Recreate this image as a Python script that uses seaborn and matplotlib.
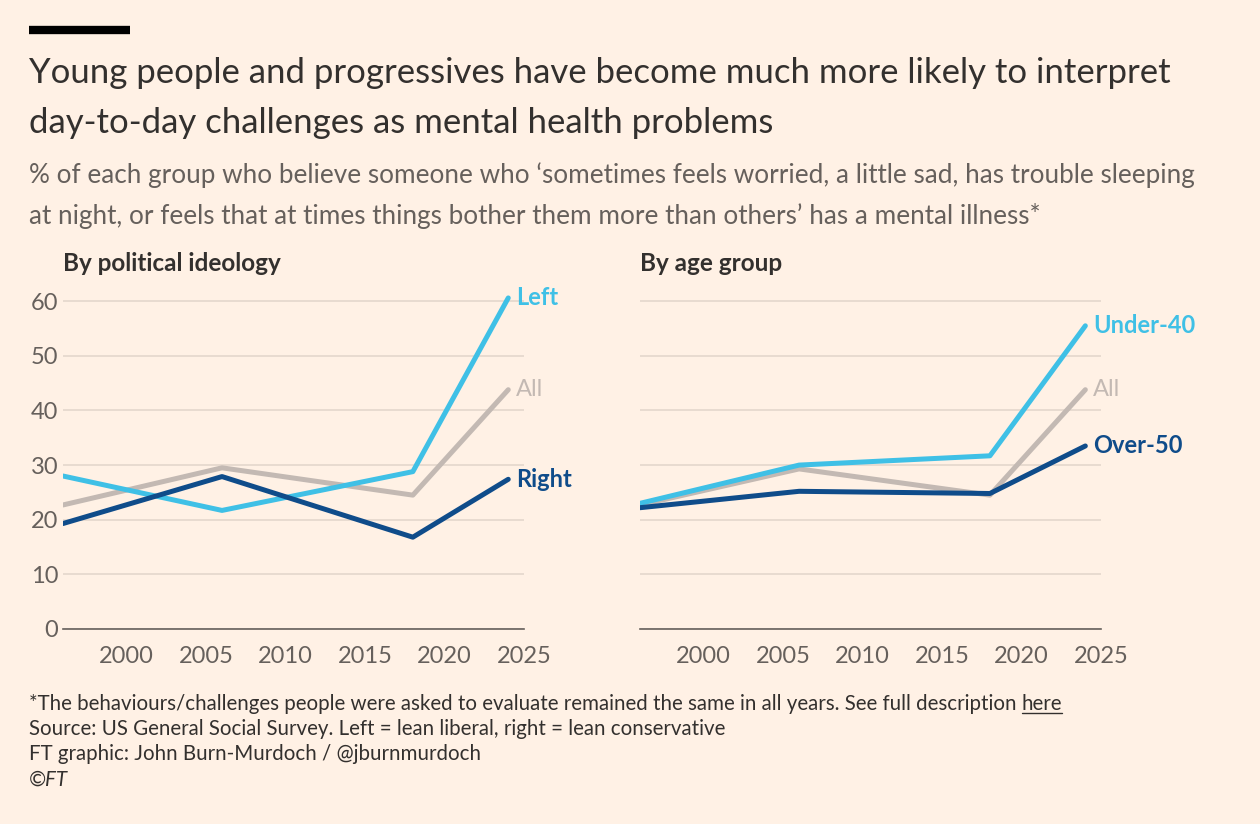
import matplotlib
matplotlib.use("Agg")
import matplotlib.pyplot as plt
import seaborn as sns
import pandas as pd

years = [1996, 2006, 2018, 2024]
pol_left = [28.0, 21.7, 28.8, 60.6]
pol_all = [22.7, 29.5, 24.5, 43.8]
pol_right = [19.3, 27.9, 16.8, 27.4]
age_under40 = [23.0, 30.0, 31.7, 55.5]
age_all = [22.7, 29.3, 24.5, 43.8]
age_over50 = [22.2, 25.2, 24.8, 33.5]

BG = "#FFF1E5"
LIGHT = "#3FC0E6"
GREY = "#C3B9B3"
DARK = "#0F4C8A"
TXT = "#33302E"
MUTE = "#66605C"

sns.set_theme(style="white")
plt.rcParams['font.family'] = ['Lato', 'DejaVu Sans']

fig = plt.figure(figsize=(12.6, 8.24), dpi=100, facecolor=BG)
ax1 = fig.add_axes([0.05, 0.2367, 0.366, 0.411], facecolor=BG)
ax2 = fig.add_axes([0.508, 0.2367, 0.366, 0.411], facecolor=BG)

panels = [
    (ax1, "By political ideology", [("Left", pol_left, LIGHT), ("All", pol_all, GREY), ("Right", pol_right, DARK)]),
    (ax2, "By age group", [("Under-40", age_under40, LIGHT), ("All", age_all, GREY), ("Over-50", age_over50, DARK)]),
]
for i, (ax, title, series) in enumerate(panels):
    rows = []
    for name, vals, c in series:
        for y, v in zip(years, vals):
            rows.append({"year": y, "value": v, "series": name})
    df = pd.DataFrame(rows)
    pal = {n: c for n, _, c in series}
    sns.lineplot(data=df, x="year", y="value", hue="series", palette=pal,
                 hue_order=[s[0] for s in series], linewidth=3.6,
                 legend=False, ax=ax)
    for line in ax.lines:
        if matplotlib.colors.to_hex(line.get_color()).upper() == GREY.upper():
            line.set_zorder(2)
        else:
            line.set_zorder(3)
    for name, vals, c in series:
        ax.text(years[-1] + 0.5, vals[-1], name, color=c, fontsize=17, va="center",
                fontweight="bold" if c != GREY else "normal")
    ax.set_xlim(1996, 2025)
    ax.set_ylim(0, 62)
    ax.set_yticks(range(0, 61, 10))
    ax.set_xticks([2000, 2005, 2010, 2015, 2020, 2025])
    ax.tick_params(axis="x", length=8, width=1.2, color=MUTE, labelsize=17, labelcolor=MUTE, pad=4)
    ax.tick_params(axis="y", length=0, labelsize=17, labelcolor=MUTE)
    if i == 1:
        ax.set_yticklabels([])
    ax.grid(axis="y", color="#E6D9CE", linewidth=1.3)
    ax.set_axisbelow(True)
    for s in ["top", "right", "left"]:
        ax.spines[s].set_visible(False)
    ax.spines["bottom"].set_color(MUTE)
    ax.spines["bottom"].set_linewidth(1.2)
    ax.set_xlabel("")
    ax.set_ylabel("")
    ax.text(0.0, 1.045, title, transform=ax.transAxes, fontsize=17.5, color=TXT, fontweight="bold",
            ha="left", va="bottom")

fig.add_artist(plt.Line2D([0.023, 0.103], [0.963, 0.963], color="black", linewidth=6,
                          solid_capstyle="butt"))
fig.text(0.023, 0.911, "Young people and progressives have become much more likely to interpret",
         fontsize=25, color=TXT, va="center")
fig.text(0.023, 0.851, "day-to-day challenges as mental health problems", fontsize=25, color=TXT, va="center")
fig.text(0.023, 0.787, "% of each group who believe someone who ‘sometimes feels worried, a little sad, has trouble sleeping",
         fontsize=18.8, color=MUTE, va="center")
fig.text(0.023, 0.738, "at night, or feels that at times things bother them more than others’ has a mental illness*",
         fontsize=18.8, color=MUTE, va="center")
foot = ["*The behaviours/challenges people were asked to evaluate remained the same in all years. See full description ",
        "Source: US General Social Survey. Left = lean liberal, right = lean conservative",
        "FT graphic: John Burn-Murdoch / @jburnmurdoch"]
for k, t in enumerate(foot):
    txt = fig.text(0.023, 0.146 - k * 0.0305, t, fontsize=14.8, color=TXT, va="center")
    if k == 0:
        fig.canvas.draw()
        bb = txt.get_window_extent().transformed(fig.transFigure.inverted())
        fig.text(bb.x1, 0.146, "here", fontsize=14.8, color=TXT, va="center",
                 usetex=False).set_text("here")
        hb = fig.texts[-1]
        fig.canvas.draw()
        hbb = hb.get_window_extent().transformed(fig.transFigure.inverted())
        fig.add_artist(plt.Line2D([hbb.x0, hbb.x1], [hbb.y0 + 0.001, hbb.y0 + 0.001], color=TXT, linewidth=1))
fig.text(0.023, 0.054, "©FT", fontsize=14.8, color=TXT, va="center", style="italic")

fig.savefig("out.png", dpi=100, facecolor=BG)
